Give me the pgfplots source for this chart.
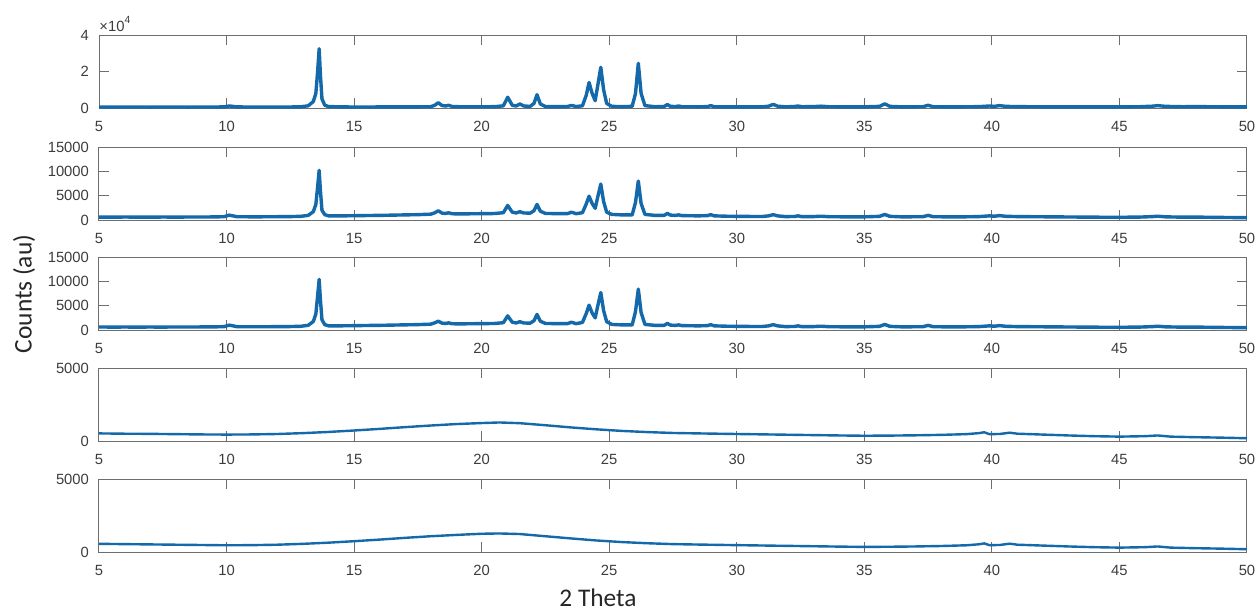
\documentclass[border=0pt]{standalone}
\usepackage{pgfplots}
\pgfplotsset{compat=1.18}
\usepackage{pgfplotstable}
\usepackage{fontspec}
\setmainfont{Liberation Sans}
\newfontfamily\labfont{Carlito}

\definecolor{xrdblue}{RGB}{20,105,170}
\definecolor{axgray}{RGB}{110,110,110}
\definecolor{txtgray}{RGB}{60,60,60}

% crystalline samples: x, sample 1, sample 2, sample 3
\pgfplotstableread{
x y1 y2 y3
5.0 550 600 620
5.5 520 590 600
6.0 540 610 610
6.5 530 600 600
7.0 520 590 610
7.5 540 610 600
8.0 530 600 620
8.5 520 610 610
9.0 540 620 630
9.5 550 630 640
9.9 600 680 690
10.1 1100 1000 1000
10.25 900 850 860
10.4 600 680 680
11.0 540 650 660
11.5 530 660 670
12.0 540 680 690
12.5 560 700 710
12.9 650 750 760
13.2 1200 950 960
13.4 3500 1700 1750
13.5 8000 3200 3300
13.57 20000 6800 7000
13.63 32500 10200 10400
13.68 18000 6000 6200
13.74 5000 2000 2100
13.85 1500 1100 1100
14.0 800 850 860
14.5 600 850 860
15.0 560 880 890
15.5 570 920 930
16.0 580 950 960
16.5 600 1000 1010
17.0 620 1050 1060
17.5 640 1100 1110
18.0 700 1200 1200
18.15 1400 1450 1450
18.3 2900 1900 1800
18.45 1300 1400 1400
18.6 1100 1350 1350
18.7 1500 1480 1470
18.85 800 1280 1280
19.2 680 1250 1260
19.6 680 1280 1290
20.0 700 1300 1310
20.5 720 1330 1340
20.85 1200 1500 1500
21.02 5900 3000 2900
21.2 1500 1600 1600
21.35 1100 1450 1450
21.5 2200 1700 1700
21.65 1100 1450 1450
21.9 900 1400 1400
22.05 2500 1900 1900
22.17 7300 3200 3200
22.3 2200 1800 1800
22.5 800 1350 1350
23.0 750 1300 1300
23.35 800 1300 1300
23.52 1400 1600 1600
23.7 800 1300 1300
23.95 1200 1500 1550
24.1 7000 3300 3400
24.21 14000 4900 5100
24.33 8000 3400 3500
24.45 4000 2400 2500
24.57 14000 5200 5400
24.67 22300 7400 7700
24.78 10000 3800 4000
24.9 2500 1600 1700
25.1 900 1150 1150
25.5 750 1050 1050
25.9 900 1050 1050
26.03 8000 3600 3800
26.14 24500 8000 8400
26.25 8000 3400 3600
26.4 1300 1150 1150
26.8 700 950 950
27.15 800 950 950
27.28 1900 1350 1350
27.4 900 1000 1000
27.6 800 950 950
27.72 1100 1050 1050
27.85 700 900 900
28.5 650 850 850
28.85 750 900 900
28.98 1300 1100 1100
29.12 700 850 850
29.6 620 780 780
30.0 600 750 750
30.5 600 730 730
31.0 650 720 720
31.25 1000 850 850
31.43 2000 1100 1100
31.6 1000 850 850
31.9 650 700 700
32.25 800 720 720
32.4 1100 850 850
32.55 700 700 700
33.0 750 700 700
33.3 1000 780 780
33.6 700 680 680
34.2 620 650 650
34.7 600 640 640
35.0 620 650 650
35.6 900 750 750
35.8 2300 1150 1150
36.0 900 750 750
36.5 600 640 640
37.3 700 680 680
37.5 1500 950 950
37.7 700 680 680
38.3 620 640 640
38.9 650 650 650
39.5 750 700 700
39.9 1100 850 850
40.1 900 780 780
40.3 1300 900 900
40.55 900 760 760
41.0 750 700 700
42.0 650 660 660
43.0 600 620 620
44.0 580 580 580
45.0 600 560 560
45.8 700 600 600
46.3 1000 700 700
46.5 1300 780 780
46.8 900 650 650
47.5 700 580 580
48.0 800 600 600
48.5 700 560 560
49.0 650 530 530
49.5 620 500 500
50.0 600 480 480
}\crys

% amorphous samples: x, sample 4, sample 5
\pgfplotstableread{
x y4 y5
5 520 560
6 500 540
7 490 520
8 470 500
9 450 480
10 440 460
11 450 470
12 480 500
13 540 560
14 620 640
15 720 740
16 830 850
17 950 970
18 1060 1080
19 1160 1170
20 1230 1250
20.7 1270 1270
21.5 1220 1230
22.5 1080 1080
23.5 930 930
24.5 800 790
25.5 690 680
26.5 610 600
27.5 550 540
28.5 520 510
30 480 470
32 430 420
34 380 370
35 360 350
36 370 360
37 390 380
38 420 410
39 470 460
39.5 540 530
39.7 600 590
39.9 470 470
40.3 480 480
40.7 570 570
41 500 500
42 440 440
43 380 380
44 330 330
45 300 300
46 330 330
46.5 380 380
47 300 300
48 260 260
49 230 230
50 190 190
}\amor

\pgfplotsset{
  xrd/.style={
    scale only axis,
    width=574pt, height=36.5pt,
    anchor=south west,
    xmin=5, xmax=50,
    xtick={5,10,...,50},
    tick align=inside,
    major tick length=5pt,
    axis line style={axgray, line width=0.5pt},
    tick style={axgray, line width=0.5pt},
    ticklabel style={font=\fontsize{7.4}{8}\selectfont, text=txtgray},
    xticklabel style={yshift=-3pt},
    yticklabel style={xshift=-1.5pt},
    /pgf/number format/assume math mode=true,
    /pgf/number format/1000 sep={},
    scaled y ticks=false,
    clip mode=individual,
  },
  thickline/.style={xrdblue, line width=1.7pt, line join=round, no marks},
  thinline/.style={xrdblue, line width=1.2pt, line join=round, no marks},
}

\begin{document}
\begin{tikzpicture}
\useasboundingbox (0,0) rectangle (630pt,-305.5pt);

\begin{axis}[xrd, at={(49.5pt,-54pt)}, ymin=0, ymax=40000,
  ytick={0,20000,40000}, yticklabels={0,2,4}]
\addplot[thickline] table[x=x, y=y1] {\crys};
\node[anchor=base west, inner sep=0pt, text=txtgray, font=\fontsize{7.4}{8}\selectfont]
  at (rel axis cs:0,1) [yshift=2pt] {×10\raisebox{0.9ex}{\fontsize{5.2}{6}\selectfont 4}};
\end{axis}

\begin{axis}[xrd, at={(49.5pt,-110pt)}, ymin=0, ymax=15000,
  ytick={0,5000,10000,15000}]
\addplot[thickline] table[x=x, y=y2] {\crys};
\end{axis}

\begin{axis}[xrd, at={(49.5pt,-165pt)}, ymin=0, ymax=15000,
  ytick={0,5000,10000,15000}]
\addplot[thickline] table[x=x, y=y3] {\crys};
\end{axis}

\begin{axis}[xrd, at={(49.5pt,-220.5pt)}, ymin=0, ymax=5000,
  ytick={0,5000}]
\addplot[thinline] table[x=x, y=y4] {\amor};
\end{axis}

\begin{axis}[xrd, at={(49.5pt,-276pt)}, ymin=0, ymax=5000,
  ytick={0,5000}]
\addplot[thinline] table[x=x, y=y5] {\amor};
\end{axis}

\node[font=\labfont\fontsize{12.7}{14}\selectfont, text=black!85] at (299pt,-299pt) {2 Theta};
\node[font=\labfont\fontsize{12.7}{14}\selectfont, text=black!85, rotate=90] at (12pt,-147pt) {Counts (au)};
\end{tikzpicture}
\end{document}
